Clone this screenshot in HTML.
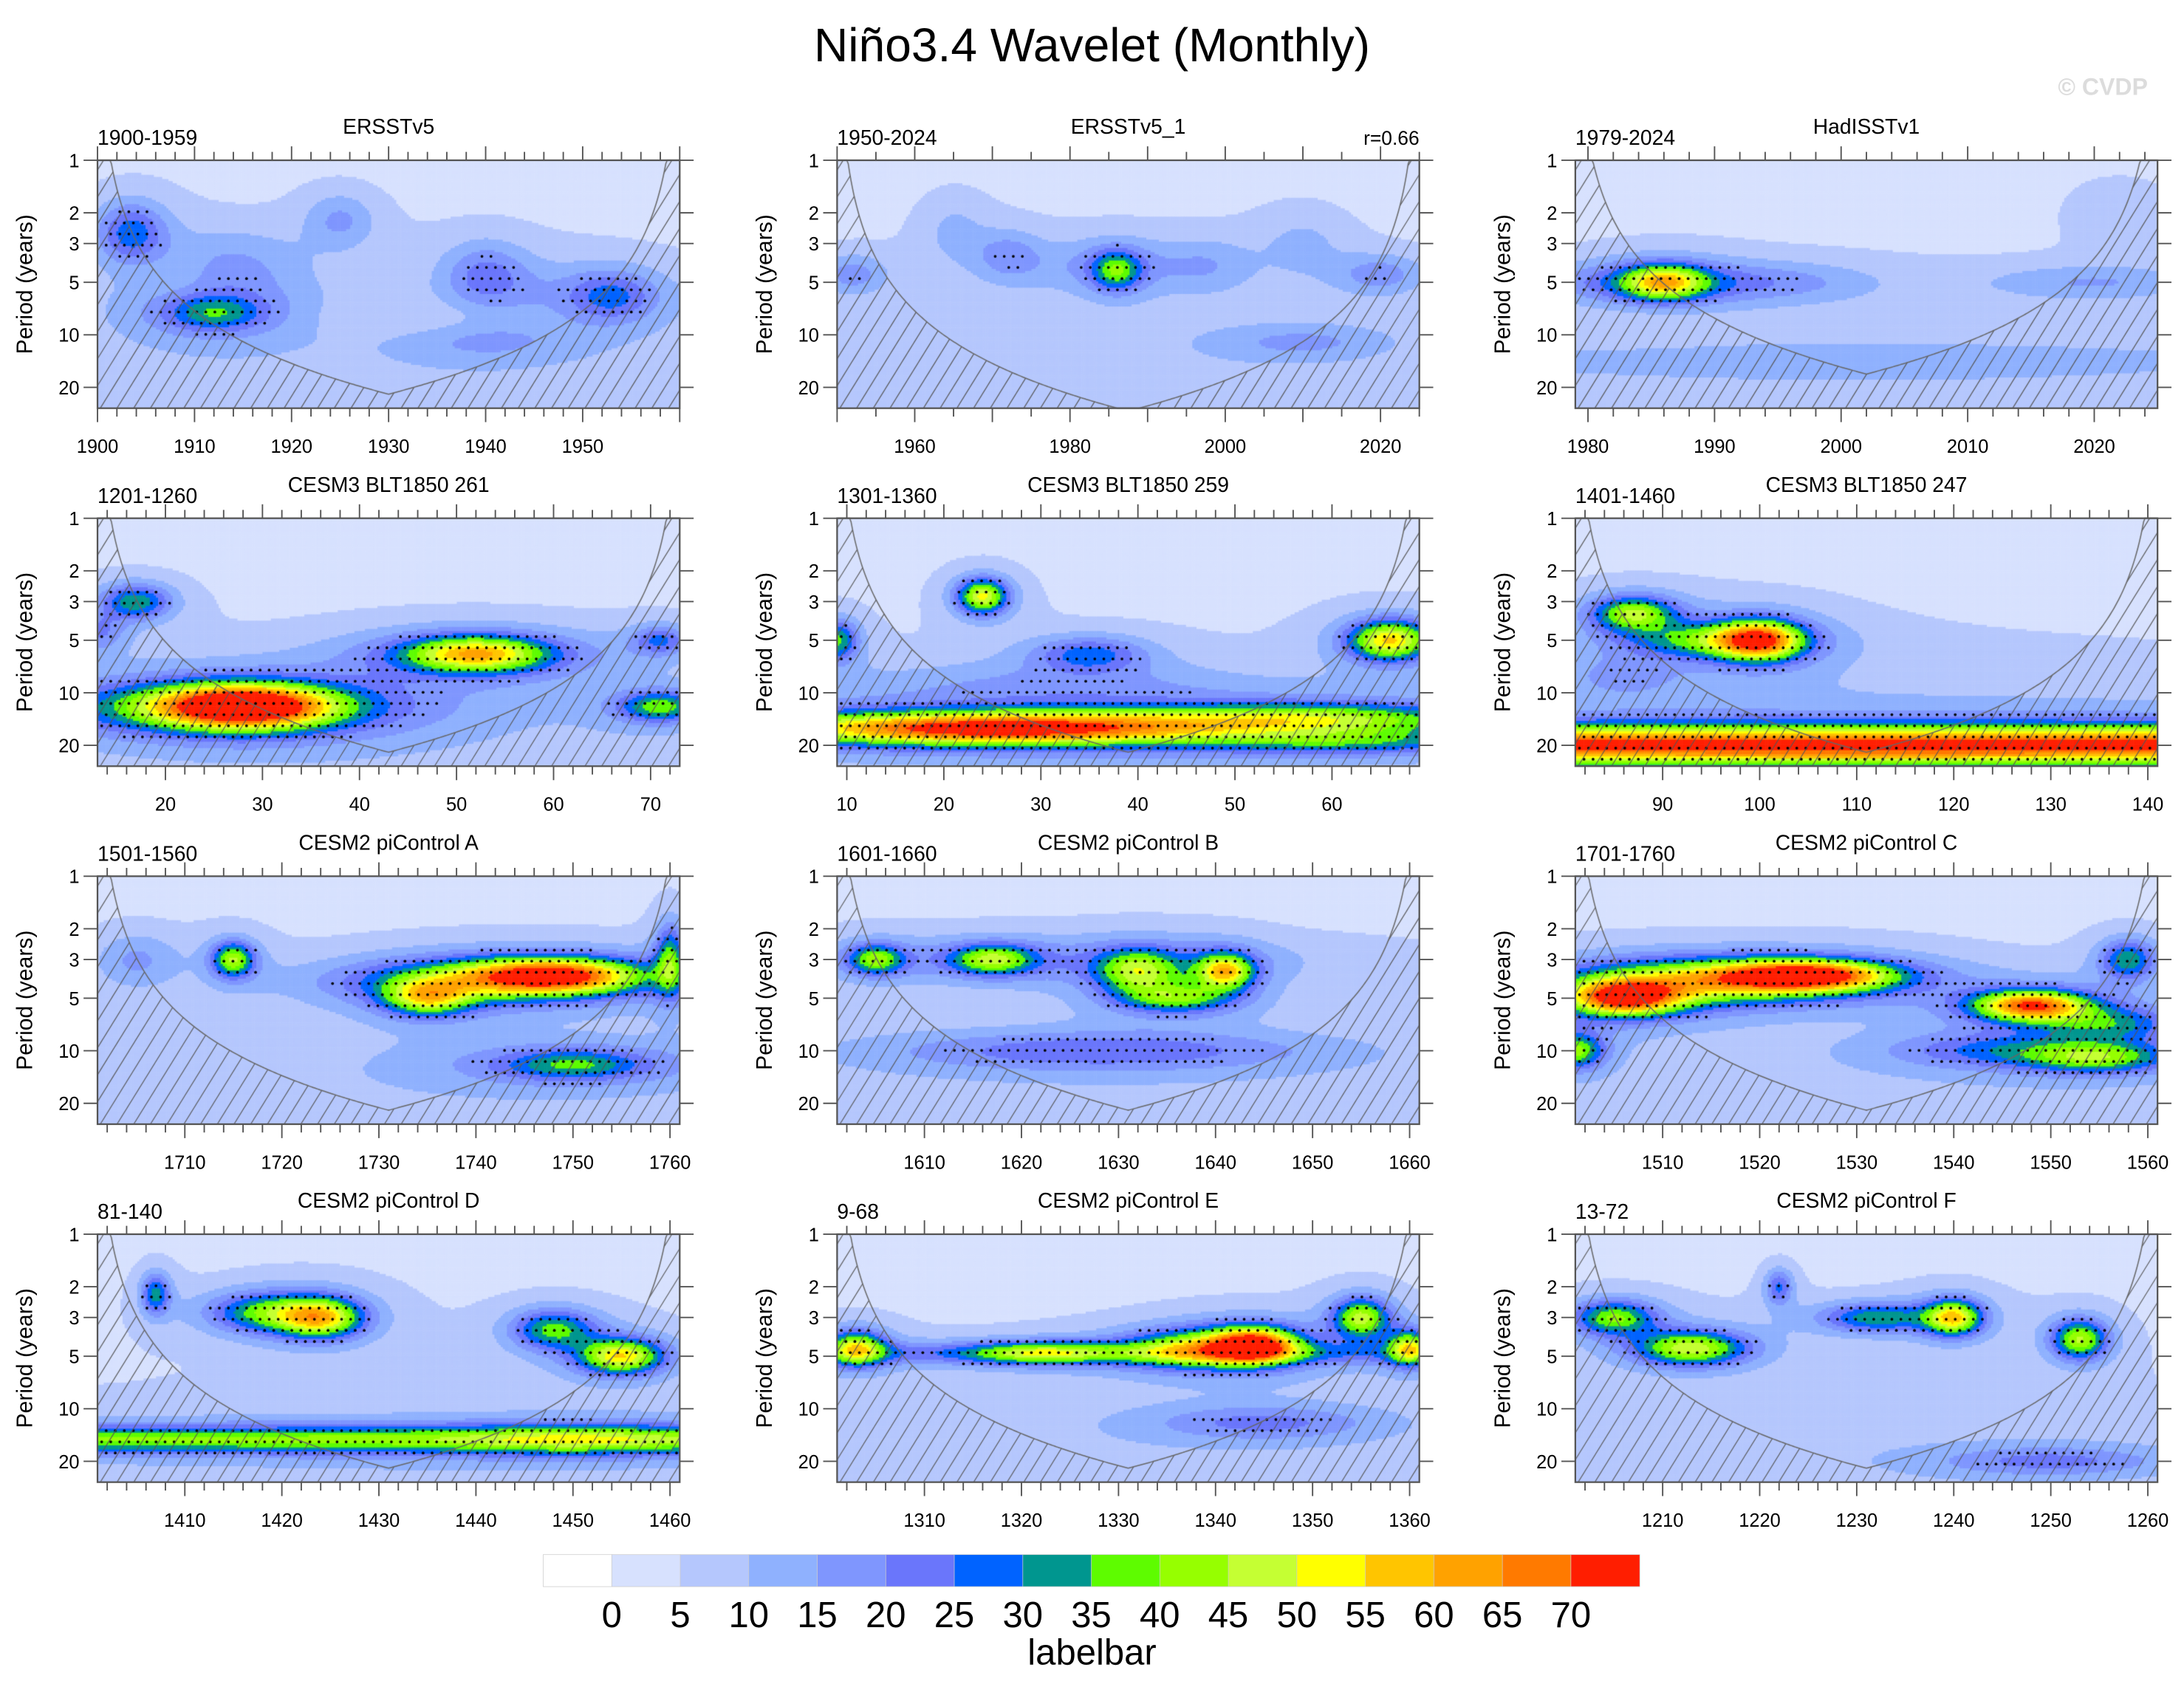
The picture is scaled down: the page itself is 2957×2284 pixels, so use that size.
<!DOCTYPE html>
<html><head><meta charset="utf-8">
<style>
html,body{margin:0;padding:0;background:#fff;}
#wrap{position:relative;width:2957px;height:2284px;overflow:hidden;}
#cv{position:absolute;left:0;top:0;}
#sv{position:absolute;left:0;top:0;}
text{font-family:"Liberation Sans",Arial,sans-serif;}
</style></head>
<body>
<div id="wrap">
<canvas id="cv" width="2957" height="2284"></canvas>
<svg id="sv" width="2957" height="2284" viewBox="0 0 1568 1211" xmlns="http://www.w3.org/2000/svg">
<text x="784" y="44" font-size="34" text-anchor="middle">Niño3.4 Wavelet (Monthly)</text>
<text x="1542" y="68" font-size="17" font-weight="bold" fill="#dcdcdc" text-anchor="end">© CVDP</text>
<g id="panels"></g>
<g id="cbar"></g>
<text x="784" y="1195" font-size="26" text-anchor="middle">labelbar</text>
</svg>
</div>
<script>
// ---- data: colour levels ----
const levelLabels = [0,5,10,15,20,25,30,35,40,45,50,55,60,65,70];
const levelColors = ["#ffffff","#d7e1fe","#b5c7fd","#8fb1fe","#7f96fe","#6a76fb","#0063ff","#00968f","#5efc00","#96ff00","#c5ff33","#ffff00","#ffc500","#ffa200","#ff7a00","#ff1e00"];
// ---- data: panel titles / ranges / ticks ----
const panelTitles = ["ERSSTv5","ERSSTv5_1","HadISSTv1","CESM3 BLT1850 261","CESM3 BLT1850 259","CESM3 BLT1850 247","CESM2 piControl A","CESM2 piControl B","CESM2 piControl C","CESM2 piControl D","CESM2 piControl E","CESM2 piControl F"];
const panelRanges = ["1900-1959","1950-2024","1979-2024","1201-1260","1301-1360","1401-1460","1501-1560","1601-1660","1701-1760","81-140","9-68","13-72"];
const timeStart = [1900,1950,1979,13,9,81,1701,1601,1501,1401,1301,1201];
const timeEnd   = [1960,2025,2025,73,69,141,1761,1661,1561,1461,1361,1261];
const xTicks = [
 [1900,1910,1920,1930,1940,1950],[1960,1980,2000,2020],[1980,1990,2000,2010,2020],
 [20,30,40,50,60,70],[10,20,30,40,50,60],[90,100,110,120,130,140],
 [1710,1720,1730,1740,1750,1760],[1610,1620,1630,1640,1650,1660],[1510,1520,1530,1540,1550,1560],
 [1410,1420,1430,1440,1450,1460],[1310,1320,1330,1340,1350,1360],[1210,1220,1230,1240,1250,1260]];
const periodTicks = [1,2,3,5,10,20];
// ---- data: wavelet power features [time, period, amplitude, timeSigma, logPeriodSigma] ----
const blobsERSSTv5 = [[1930,18,5,40,0.3],[1903.5,2.6,24,2.5,0.12],[1914,3.8,10,5,0.14],[1912,7.5,20,3.5,0.07],[1912,7,10,7,0.14],[1925,2.2,12,2.5,0.11],[1940,4.5,16,3,0.13],[1953,6,16,3,0.1],[1950,6,8,8,0.14],[1940,11,8,6,0.08],[1908,5,-4,3,0.1],[1935,8,-4,8,0.07]];
const blobsERSSTv5_1 = [[1987,18,5,40,0.3],[1952,4.5,14,3,0.08],[1972,3.5,12,3,0.1],[1986,4.3,28,2.2,0.08],[1985,4,10,8,0.11],[1998,4,8,4,0.11],[2010,3,7,4,0.14],[2020,4.5,14,4,0.08],[1965,2.5,7,3,0.14],[2010,11,10,8,0.07]];
const blobsHadISSTv1 = [[2002,18,5,30,0.3],[1986,5,40,2.2,0.07],[1985,5,18,6,0.08],[1996,5,9,5,0.08],[2020,5,11,6,0.07],[2022,2,5,3,0.14],[2000,14,6,30,0.07],[1985,9,-3,4,0.07]];
const blobsBLT261 = [[43,18,5,40,0.3],[28,12,68,6,0.085],[25,12,25,12,0.1],[52,6,45,5,0.07],[52,6,12,9,0.1],[71,12,32,3,0.06],[17,3,30,2.5,0.07],[13,4.5,15,2,0.08],[71,5,20,2,0.06]];
const blobsBLT259 = [[39,18,5,40,0.3],[25,16,70,16,0.065],[58,14,32,12,0.06],[62,19,20,10,0.05],[24,2.8,48,1.8,0.07],[66,5,52,3,0.08],[35,6,22,4,0.07],[9,5,32,1.5,0.08],[30,9,8,15,0.1]];
const blobsBLT247 = [[111,12,5,40,0.3],[111,20,68,200,0.08],[100,5,56,3,0.08],[87,3.5,40,3,0.07],[95,5,28,6,0.07],[86,8,10,4,0.08]];
const blobsPiA = [[1731,18,5,40,0.3],[1748,3.7,62,6,0.07],[1740,4,28,10,0.09],[1735,5,38,3,0.07],[1715,3,40,1.5,0.07],[1760,3,30,1,0.14],[1705,3,12,3,0.11],[1750,12,22,5,0.06],[1750,12,8,12,0.1]];
const blobsPiB = [[1631,18,5,40,0.3],[1605,3,34,2,0.06],[1617,3,36,3,0.06],[1632,3.5,36,3,0.09],[1641,3.5,48,2,0.07],[1636,5,30,4,0.06],[1628,10,18,15,0.08],[1625,3,10,20,0.1]];
const blobsPiC = [[1531,18,5,40,0.3],[1506,5,64,4,0.07],[1525,3.7,64,6,0.06],[1515,4,40,10,0.09],[1548,5.5,64,4,0.06],[1556,7,22,5,0.07],[1555,11,30,5,0.06],[1501,10,36,2,0.07],[1558,3,30,2,0.08],[1545,10,18,8,0.07]];
const blobsPiD = [[1431,18,5,40,0.3],[1424,3,50,3,0.08],[1418,2.8,30,4,0.08],[1455,5,50,3,0.07],[1448,3.5,32,3,0.08],[1407,2.2,28,1,0.08],[1431,15,34,200,0.055],[1450,15,12,8,0.07]];
const blobsPiE = [[1331,18,5,40,0.3],[1303,4.5,44,2,0.07],[1322,4.8,30,5,0.045],[1344,4.3,64,3,0.07],[1338,4.5,35,5,0.08],[1355,3,42,2,0.08],[1360,4.5,42,1.5,0.07],[1330,4.8,18,30,0.045],[1345,12,15,8,0.07]];
const blobsPiF = [[1231,18,5,40,0.3],[1205,3,36,3,0.07],[1213,4.5,44,4,0.07],[1240,3,50,2,0.07],[1232,3,30,4,0.06],[1253,4,42,2,0.08],[1222,2,22,1,0.07],[1250,20,15,8,0.06]];
const panelBlobs = [blobsERSSTv5,blobsERSSTv5_1,blobsHadISSTv1,blobsBLT261,blobsBLT259,blobsBLT247,blobsPiA,blobsPiB,blobsPiC,blobsPiD,blobsPiE,blobsPiF];

// ---- layout ----
const colX = [70,601,1131], rowY = [115,372,629,886], PW = 418, PH = 178, DEC = 125.3;
const PMAX = Math.pow(10, PH/DEC);
const NS = "http://www.w3.org/2000/svg";
const cv = document.getElementById('cv');
const ctx = cv.getContext('2d');
ctx.scale(2957/1568, 2284/1211);

function levelIndex(v){ return v<0?0:Math.min(15, Math.floor(v/5)+1); }
function fieldAt(blobs,t,P){
  let v=3; const lp=Math.log10(P);
  for(const b of blobs){
    const dt=(t-b[0])/b[3], dl=(lp-Math.log10(b[1]))/b[4];
    const r2=dt*dt+dl*dl;
    v += b[2]*(0.85*Math.exp(-0.5*r2)+0.15*Math.exp(-0.125*r2));
  }
  return v;
}
function mk(tag, attrs, parent){
  const e=document.createElementNS(NS,tag);
  for(const k in attrs) e.setAttribute(k, attrs[k]);
  parent.appendChild(e); return e;
}
const gP = document.getElementById('panels');

for(let i=0;i<12;i++){
  const x0=colX[i%3], y0=rowY[Math.floor(i/3)];
  const t0=timeStart[i], t1=timeEnd[i], blobs=panelBlobs[i];
  const xOf = t => x0 + (t-t0)/(t1-t0)*PW;
  const yOf = P => y0 + Math.log10(P)*DEC;
  const tOf = x => t0 + (x-x0)/PW*(t1-t0);
  const POf = y => Math.pow(10,(y-y0)/DEC);
  const step=1.5;
  for(let x=x0;x<x0+PW;x+=step){
    for(let y=y0;y<y0+PH;y+=step){
      const v=fieldAt(blobs,tOf(x+step/2),POf(y+step/2));
      ctx.fillStyle=levelColors[levelIndex(v)];
      ctx.fillRect(x,y,Math.min(step+0.3,x0+PW-x),Math.min(step+0.3,y0+PH-y));
    }
  }
  ctx.fillStyle="#000";
  let row=0;
  for(let y=y0+5;y<y0+PH-2;y+=8,row++){
    for(let x=x0+3+(row%2)*3.25;x<x0+PW-2;x+=6.5){
      const v=fieldAt(blobs,tOf(x),POf(y));
      if(v>17){ ctx.beginPath(); ctx.arc(x,y,1.0,0,Math.PI*2); ctx.fill(); }
    }
  }
  const pts=[];
  for(let x=x0;x<=x0+PW+0.01;x+=1){
    const t=tOf(x); const d=Math.min(t-t0,t1-t);
    let P=Math.max(1,0.73*d); P=Math.min(P,PMAX);
    pts.push([x,yOf(P)]);
  }
  ctx.save();
  ctx.beginPath();
  ctx.moveTo(x0,y0+PH); pts.forEach(p=>ctx.lineTo(p[0],p[1])); ctx.lineTo(x0+PW,y0+PH); ctx.closePath();
  ctx.clip();
  ctx.strokeStyle="#555"; ctx.lineWidth=0.6;
  for(let k=-PH;k<PW+PH;k+=12){
    ctx.beginPath(); ctx.moveTo(x0+k,y0+PH); ctx.lineTo(x0+k+PH*0.62,y0); ctx.stroke();
  }
  ctx.restore();
  ctx.strokeStyle="#666"; ctx.lineWidth=0.8;
  ctx.beginPath(); pts.forEach((p,j)=>j?ctx.lineTo(p[0],p[1]):ctx.moveTo(p[0],p[1])); ctx.stroke();

  const g = mk('g',{},gP);
  
  
  const fr = mk('rect',{x:x0,y:y0,width:PW,height:PH,fill:'none',stroke:'#555','stroke-width':1.2},g);
  
  
  const tt = mk('text',{x:x0+PW/2,y:y0-19,'font-size':15,'text-anchor':'middle'},g);
  tt.textContent=panelTitles[i];
  
  
  const rl = mk('text',{x:x0,y:y0-11,'font-size':15},g);
  rl.textContent=panelRanges[i];
  
  
  if(i===1){
    const rr = mk('text',{x:x0+PW,y:y0-11,'font-size':14,'text-anchor':'end'},g);
    rr.textContent='r=0.66';
    
    
  }
  const yt = mk('text',{x:0,y:0,'font-size':16,'text-anchor':'middle',transform:`translate(${x0-47},${y0+PH/2}) rotate(-90)`},g);
  yt.textContent='Period (years)';
  
  
  let tk='';
  const mstep = (t1-t0)>70?5:2;
  for(let t=Math.ceil(t0/mstep)*mstep;t<=t1;t+=mstep){
    const x=xOf(t); const maj=(t%10===0);
    const L=maj?10:6;
    tk+=`M${x},${y0}v${-L}M${x},${y0+PH}v${L}`;
  }
  periodTicks.forEach(P=>{const y=yOf(P); tk+=`M${x0},${y}h-10M${x0+PW},${y}h10`;});
  const tp = mk('path',{d:tk,stroke:'#555','stroke-width':1,fill:'none'},g);
  
  
  xTicks[i].forEach(t=>{
    const e=mk('text',{x:xOf(t),y:y0+PH+32,'font-size':13.5,'text-anchor':'middle'},g);
    e.textContent=t;
    
    
  });
  periodTicks.forEach(P=>{
    const e=mk('text',{x:x0-13,y:yOf(P)+5,'font-size':13.5,'text-anchor':'end'},g);
    e.textContent=P;
    
    
  });
}
const gC=document.getElementById('cbar');
const cbX=390, cbW=787/16, cbY=1116, cbH=23;
levelColors.forEach((c,k)=>{
  const r=mk('rect',{x:cbX+k*cbW,y:cbY,width:cbW+0.3,height:cbH,fill:c,stroke:'#ccc','stroke-width':0.4},gC);
  
  
});
levelLabels.forEach((v,k)=>{
  const e=mk('text',{x:cbX+(k+1)*cbW,y:1168,'font-size':26,'text-anchor':'middle'},gC);
  e.textContent=v;
  
  
});
</script>
</body></html>
